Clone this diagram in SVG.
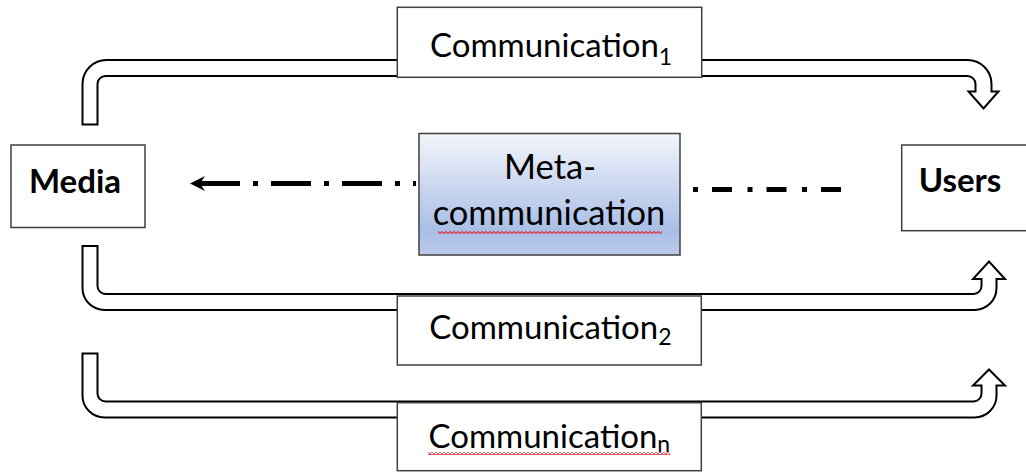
<svg xmlns="http://www.w3.org/2000/svg" width="1026" height="472" viewBox="0 0 1026 472">
  <defs>
    <linearGradient id="metaGrad" x1="0" y1="0" x2="0" y2="1">
      <stop offset="0" stop-color="#f3f5fb"/>
      <stop offset="0.8" stop-color="#a9bee6"/>
      <stop offset="1" stop-color="#bccbea"/>
    </linearGradient>
    <pattern id="squiggle" x="0" y="0" width="4" height="3" patternUnits="userSpaceOnUse">
      <polyline points="0,2.5 2,0.5 4,2.5" fill="none" stroke="#e0303e" stroke-width="1.1"/>
    </pattern>
  </defs>
  <style>
    .box { fill: #ffffff; stroke: #404040; stroke-width: 1.5; }
    .block { fill: #ffffff; stroke: #000000; stroke-width: 2; stroke-linejoin: miter; }
    .lbl { font-family: Lato, "Liberation Sans", sans-serif; font-size: 33px; fill: #000000; }
    .meta { font-size: 34.5px; }
    .bold { font-weight: bold; font-size: 33px; }
    .sub { font-size: 23px; }
    .dash { fill: none; stroke: #000000; stroke-width: 5; }
  </style>
  <rect width="1026" height="472" fill="#ffffff"/>

  <g id="connectors">
    <path class="block" d="M82.5,124.5 V84 A24,24 0 0 1 106.5,60 H967.5 A24,24 0 0 1 991.5,84 V91.5 H998.5 L983.5,108.5 L968.5,91.5 H975.5 V84 A8,8 0 0 0 967.5,76 H105.5 A8,8 0 0 0 97.5,84 V124.5 Z"/>
    <path class="block" d="M82.5,246 V288 A22,22 0 0 0 104.5,310 H974.5 A22,22 0 0 0 996.5,288 V279 H1005 L989,261.5 L973,279 H981.5 V286 A8,8 0 0 1 973.5,294 H105.5 A8,8 0 0 1 97.5,286 V246 Z"/>
    <path class="block" d="M82.5,353.5 V395.5 A22,22 0 0 0 104.5,417.5 H974.5 A22,22 0 0 0 996.5,395.5 V385.5 H1005 L989,369.5 L973,385.5 H981.5 V393.5 A8,8 0 0 1 973.5,401.5 H105.5 A8,8 0 0 1 97.5,393.5 V353.5 Z"/>
    <line class="dash" x1="200" y1="183.5" x2="416" y2="183.5" stroke-dasharray="40 13 5 13"/>
    <polygon points="190,183.5 205,176 200,183.5 205,191" fill="#000000"/>
    <line class="dash" x1="693" y1="189.5" x2="842" y2="189.5" stroke-dasharray="5 14 20 15.5"/>
  </g>

  <g id="media">
    <rect class="box" x="11" y="145" width="134" height="82.5"/>
    <text class="lbl bold" x="75" y="193" text-anchor="middle">Media</text>
  </g>

  <g id="users">
    <rect class="box" x="901.7" y="145" width="140" height="85.7"/>
    <text class="lbl bold" x="960" y="191.7" text-anchor="middle">Users</text>
  </g>

  <g id="meta">
    <rect x="419" y="133.5" width="261" height="121.5" fill="url(#metaGrad)" stroke="#404040" stroke-width="1.5"/>
    <text class="lbl meta" x="550" y="179" text-anchor="middle">Meta-</text>
    <text class="lbl meta" x="549" y="225" text-anchor="middle">communication</text>
    <rect x="438" y="231" width="224" height="3" fill="url(#squiggle)"/>
  </g>

  <g id="comm1">
    <rect class="box" x="397.3" y="7.3" width="304.4" height="70"/>
    <text class="lbl" x="430" y="56.5">Communication<tspan class="sub" dy="8.5">1</tspan></text>
  </g>

  <g id="comm2">
    <rect class="box" x="397.3" y="296" width="304" height="69"/>
    <text class="lbl" x="429.3" y="339">Communication<tspan class="sub" dy="6">2</tspan></text>
  </g>

  <g id="commn">
    <rect class="box" x="397.3" y="402.7" width="304" height="68"/>
    <text class="lbl" x="428.5" y="448.3">Communication<tspan class="sub" dy="4">n</tspan></text>
    <rect x="428" y="452" width="242" height="3" fill="url(#squiggle)"/>
  </g>
</svg>
